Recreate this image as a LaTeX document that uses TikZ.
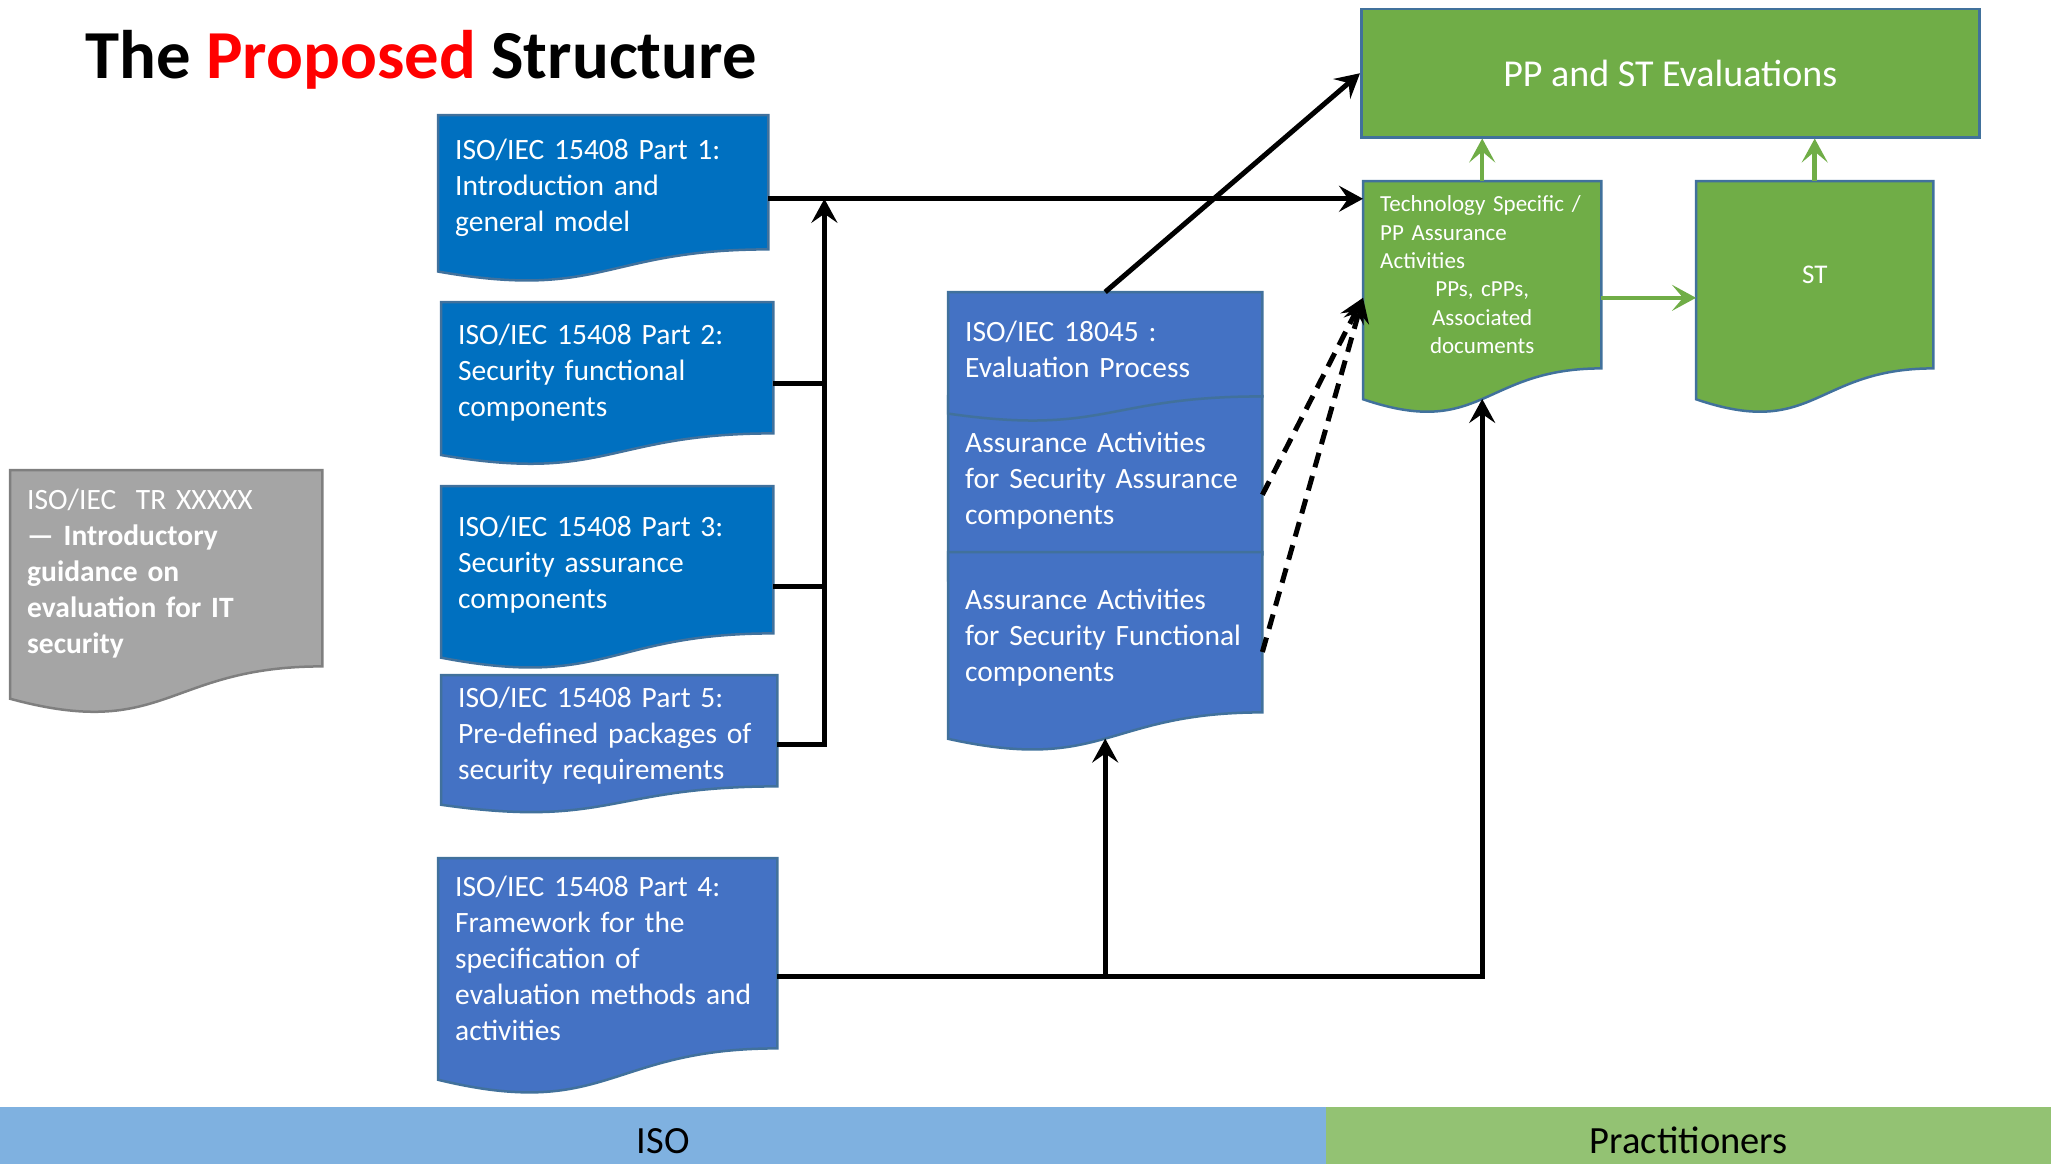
\documentclass[tikz,border=0pt]{standalone}
\usepackage{fontspec}
\setmainfont{Carlito}
\usepackage{tikz}
\usetikzlibrary{arrows.meta,calc,backgrounds}

\definecolor{isoblue}{HTML}{0070C0}
\definecolor{accblue}{HTML}{4472C4}
\definecolor{docgreen}{HTML}{70AD47}
\definecolor{docgray}{HTML}{A5A5A5}
\definecolor{edgeblue}{HTML}{41719C}
\definecolor{edgegray}{HTML}{7F7F7F}
\definecolor{barblue}{HTML}{7FB1E0}
\definecolor{bargreen}{HTML}{93C273}
\definecolor{titlered}{HTML}{FF0000}

\newcommand{\boxfont}{\fontsize{29.5}{36}\selectfont}
\newcommand{\smallboxfont}{\fontsize{23}{28.4}\selectfont}
\newcommand{\barfont}{\fontsize{38.5}{44}\selectfont}
\newcommand{\bartext}[1]{\raisebox{-5pt}[\height][\depth]{#1}}
\newcommand{\midline}[1]{\makebox[204pt]{#1}}

\tikzset{
	docbox/.style={anchor=north west, inner xsep=17pt, inner ysep=0pt, align=left, text=white, font=\boxfont},
	partbox/.style={docbox, execute at begin node={\rule{0pt}{31pt}}},
	plainbox/.style={anchor=north west, inner sep=0pt, align=center, text=white},
	docedge/.style={line width=2.5pt},
	link/.style={line width=5pt},
	flow/.style={link, -{Stealth[length=24pt,width=26pt,inset=9pt]}},
	dashflow/.style={flow, dash pattern=on 15pt off 9pt},
	greenflow/.style={line width=4.5pt, docgreen, -{Stealth[length=24pt,width=26pt,inset=11pt]}}
}

\begin{document}
\begin{tikzpicture}[x=1pt,y=-1pt]
	\useasboundingbox (0,0) rectangle (2051,1164);

	\node[anchor=base west, inner sep=0pt, font=\fontsize{68.7}{80}\selectfont\bfseries] (title) at (85,78) {The \textcolor{titlered}{Proposed} Structure};

	% ISO/IEC 15408 parts
	\node[partbox, text width=296pt, minimum height=134pt] (p1) at (438,115) {ISO/IEC 15408 Part 1:\\Introduction and\\general model};
	\node[partbox, text width=298pt, minimum height=131pt] (p2) at (441,302) {ISO/IEC 15408 Part 2:\\Security functional\\components};
	\node[partbox, text width=298pt, minimum height=147pt] (p3) at (441,486) {ISO/IEC 15408 Part 3:\\Security assurance\\components};
	\node[partbox, text width=302pt, minimum height=111pt] (p5) at (441,675) {ISO/IEC 15408 Part 5:\\Pre-defined packages of\\security requirements};
	\node[partbox, text width=305pt, minimum height=190pt] (p4) at (438,858) {ISO/IEC 15408 Part 4:\\Framework for the\\specification of\\evaluation methods and\\activities};

	\node[partbox, text width=278pt, minimum height=196pt] (tr) at (10,470) {ISO/IEC\ \ TR XXXXX\\\textbf{— Introductory}\\\textbf{guidance on}\\\textbf{evaluation for IT}\\\textbf{security}};

	% ISO/IEC 18045 stack
	\node[partbox, text width=280pt, minimum height=104pt] (ev1) at (948,292) {ISO/IEC 18045 :\\Evaluation Process};
	\node[partbox, text width=280pt, minimum height=158pt] (ev2) at (948,396) {Assurance Activities\\for Security Assurance\\components};
	\node[partbox, text width=280pt, minimum height=160pt] (ev3) at (948,552) {Assurance Activities\\for Security Functional\\components};

	% practitioners
	\node[plainbox, fill=docgreen, draw=edgeblue, line width=2.5pt, minimum width=618pt, minimum height=128pt, font=\fontsize{38}{44}\selectfont] (ppst) at (1360,8) {PP and ST Evaluations};
	\node[docbox, font=\smallboxfont, text width=204pt, minimum height=187pt] (tech) at (1363,181) {Technology Specific /\\PP Assurance\\Activities\\\midline{PPs, cPPs,}\\\midline{Associated}\\\midline{documents}};
	\node[plainbox, minimum width=237pt, minimum height=187pt, font=\fontsize{27}{32}\selectfont] (st) at (1696,181) {ST};

	\node[plainbox, fill=barblue, text=black, minimum width=1326pt, minimum height=57pt, font=\barfont] (iso) at (0,1107) {\bartext{ISO}};
	\node[plainbox, fill=bargreen, text=black, minimum width=725pt, minimum height=57pt, font=\barfont] (prac) at (1326,1107) {\bartext{Practitioners}};

	\begin{scope}[on background layer]
		\foreach \n/\f/\e in {p1/isoblue/edgeblue, p2/isoblue/edgeblue, p3/isoblue/edgeblue, p5/accblue/edgeblue, p4/accblue/edgeblue, tr/docgray/edgegray, ev2/accblue/edgeblue, ev1/accblue/edgeblue, ev3/accblue/edgeblue, tech/docgreen/edgeblue, st/docgreen/edgeblue}
			\draw[docedge, fill=\f, draw=\e] (\n.north west) -- (\n.north east) -- (\n.south east) .. controls (\n.south) and ($(\n.north)!1.381!(\n.south)$) .. ($(\n.north west)!1.1646!(\n.south west)$) -- cycle;
	\end{scope}

	% connection points
	\coordinate (p1o) at ($(p1.north east)!0.6234!(p1.south east)$);
	\coordinate (p2o) at ($(p2.north east)!0.6234!(p2.south east)$);
	\coordinate (p3o) at ($(p3.north east)!0.68!(p3.south east)$);
	\coordinate (p5o) at ($(p5.north east)!0.6234!(p5.south east)$);
	\coordinate (p4o) at ($(p4.north east)!0.6234!(p4.south east)$);
	\coordinate (ev2o) at ($(ev2.north east)!0.6234!(ev2.south east)$);
	\coordinate (ev3o) at ($(ev3.north east)!0.6234!(ev3.south east)$);
	\coordinate (ev3b) at ($(ev3.north)!1.163!(ev3.south)$);
	\coordinate (techi) at ($(tech.north west)!0.6234!(tech.south west)$);
	\coordinate (techo) at ($(tech.north east)!0.6234!(tech.south east)$);
	\coordinate (techb) at ($(tech.north)!1.163!(tech.south)$);
	\coordinate (sti) at ($(st.north west)!0.6234!(st.south west)$);
	\coordinate (bus) at ($(p5o)+(47,0)$);

	\draw[link] (p2o) -- (p2o -| bus);
	\draw[link] (p3o) -- (p3o -| bus);
	\draw[flow] (p5o) -- (bus) -- (bus |- p1o);
	\draw[flow] (p1o) -- (p1o -| tech.west);
	\draw[flow] (ev1.north) -- (ppst.west);
	\draw[dashflow] (ev2o) -- (techi);
	\draw[dashflow] (ev3o) -- (techi);
	\draw[flow] (p4o) -| (techb);
	\draw[flow] (p4o -| ev3b) -- (ev3b);
	\draw[greenflow] (tech.north) -- (tech.north |- ppst.south);
	\draw[greenflow] (st.north) -- (st.north |- ppst.south);
	\draw[greenflow] (techo) -- (sti);
\end{tikzpicture}
\end{document}
